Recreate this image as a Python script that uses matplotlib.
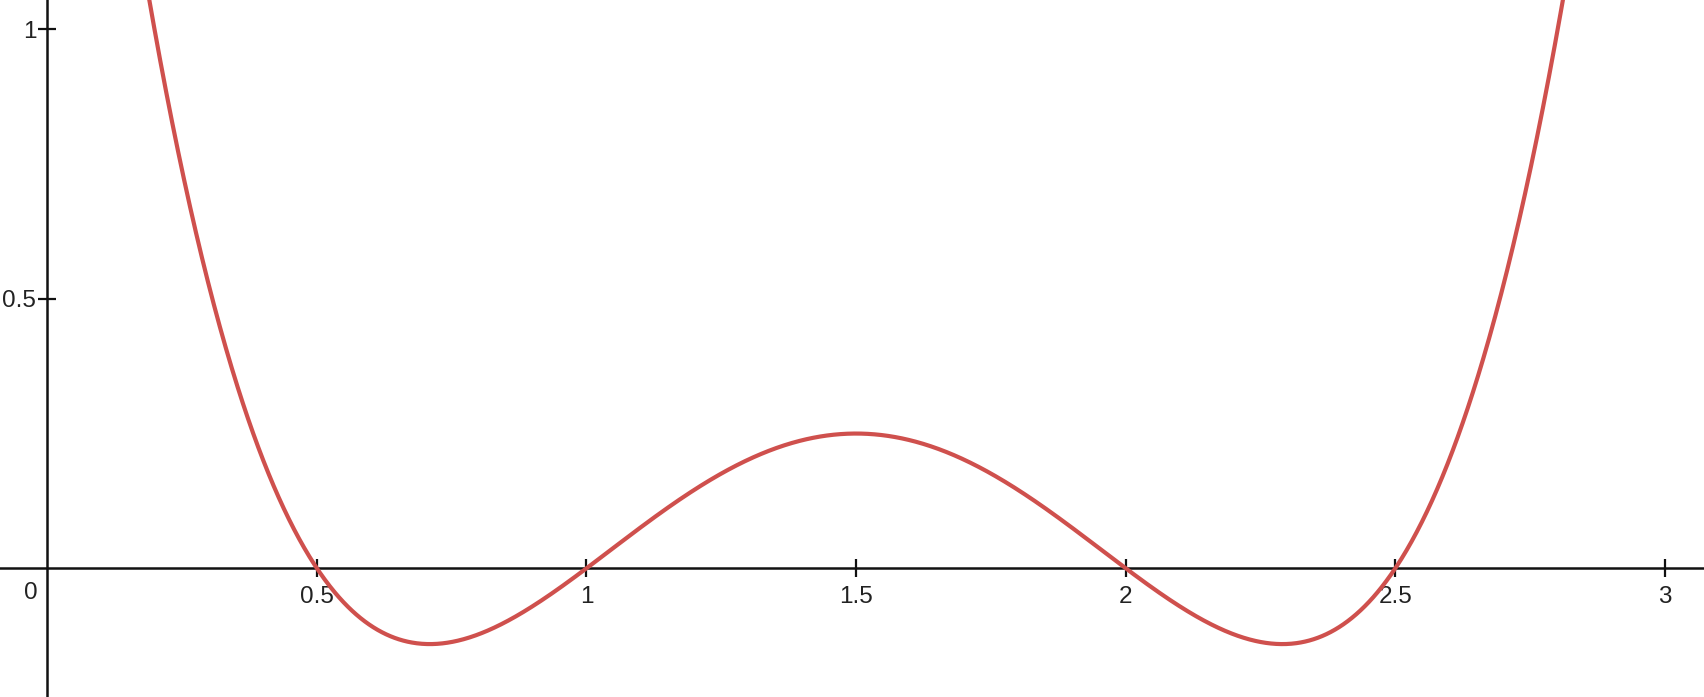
import numpy as np
import matplotlib
matplotlib.use("Agg")
import matplotlib.pyplot as plt

# Data: the plotted quartic is defined by its roots (read from the x-axis crossings)
roots = [0.5, 1.0, 2.0, 2.5]
x_ticks = [0.5, 1, 1.5, 2, 2.5, 3]
x_tick_labels = ["0.5", "1", "1.5", "2", "2.5", "3"]
y_ticks = [0.5, 1]
y_tick_labels = ["0.5", "1"]

plt.rcParams['font.family'] = ['Liberation Sans', 'DejaVu Sans']

W, H, DPI = 1704, 697, 100
fig = plt.figure(figsize=(W / DPI, H / DPI), dpi=DPI)
ax = fig.add_axes([0, 0, 1, 1])
ax.set_xlim(-0.0877, 3.0725)
ax.set_ylim(-0.2388, 1.0544)

xs = np.linspace(-0.0877, 3.0725, 2000)
ys = np.ones_like(xs)
for r in roots:
    ys = ys * (xs - r)
ax.plot(xs, ys, color="#cf504d", lw=3.0, solid_capstyle="round", zorder=5)

for s in ["top", "right"]:
    ax.spines[s].set_visible(False)
ax.spines["left"].set_position(("data", 0))
ax.spines["bottom"].set_position(("data", 0))
for s in ["left", "bottom"]:
    ax.spines[s].set_linewidth(1.8)
    ax.spines[s].set_color("#111111")
    ax.spines[s].set_zorder(3)

ax.set_xticks(x_ticks)
ax.set_xticklabels(x_tick_labels)
ax.set_yticks(y_ticks)
ax.set_yticklabels(y_tick_labels)
ax.tick_params(axis="both", direction="inout", length=13, width=1.6,
               color="#111111", labelsize=17.5, labelcolor="#222222")
ax.tick_params(axis="x", pad=6)
ax.tick_params(axis="y", pad=1.5)

ax.annotate("0", xy=(0, 0), xycoords="data", xytext=(-16, -14),
            textcoords="offset pixels", ha="center", va="top",
            fontsize=17.5, color="#222222")

fig.savefig("out.png", dpi=DPI, facecolor="white")
